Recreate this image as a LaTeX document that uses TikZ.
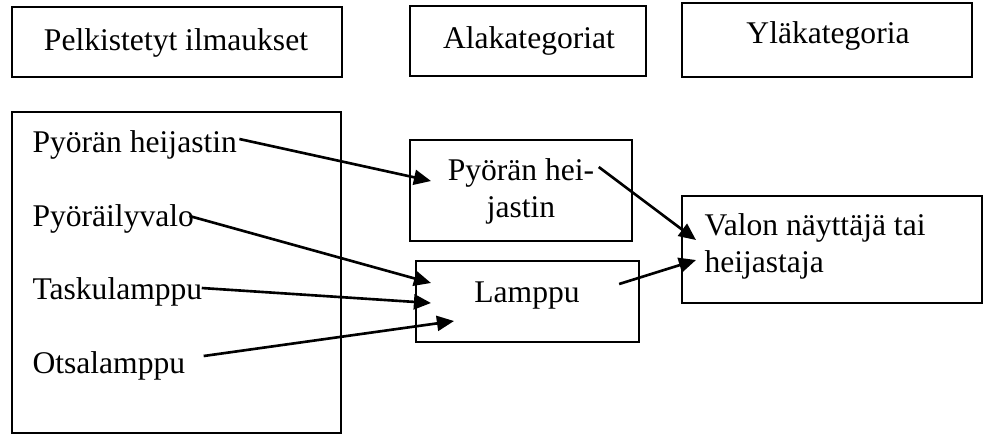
\documentclass[tikz,border=0pt]{standalone}
\usepackage{fontspec}
\setmainfont{Liberation Serif}
\usetikzlibrary{arrows.meta,calc,fit}
\begin{document}
\begin{tikzpicture}[x=0.38pt,y=-0.38pt,
  box/.style={draw,line width=0.75pt,inner sep=0pt},
  txt/.style={inner sep=0pt,font=\fontsize{12}{14}\selectfont},
  lbl/.style={txt,anchor=base west},
  clbl/.style={txt,anchor=base},
  arr/.style={line width=1pt,-{Triangle[length=6.5pt,width=5.7pt]}}]
\useasboundingbox (0,0) rectangle (984,434);
% header boxes
\node[box,fit={(12,7)(342,77)}] (b1) {};
\node[box,fit={(410,6)(646,76)}] (b2) {};
\node[box,fit={(682,3)(972,77)}] (b3) {};
\node[clbl] (h1) at (176,50) {Pelkistetyt ilmaukset};
\node[clbl] (h2) at (529,48) {Alakategoriat};
\node[clbl] (h3) at (828,43) {Yläkategoria};
% left box
\node[box,fit={(12,112)(341,433)}] (big) {};
\node[lbl] (ph) at (32,152) {Pyörän heijastin};
\node[lbl] (pv) at (32,226) {Pyöräilyvalo};
\node[lbl] (tl) at (32,299) {Taskulamppu};
\node[lbl] (ol) at (32,373) {Otsalamppu};
% middle boxes
\node[box,fit={(410,140)(632,241)}] (bp) {};
\node[clbl] (pa) at (521,180) {Pyörän hei-};
\node[clbl] (pb) at (521,217) {jastin};
\node[box,fit={(416,261)(639,342)}] (bl) {};
\node[clbl] (la) at (527,302) {Lamppu};
% right box
\node[box,fit={(682,196)(982,303)}] (bv) {};
\node[lbl] (va) at (704,235) {Valon näyttäjä tai};
\node[lbl] (vb) at (704,272) {heijastaja};
% arrows
\draw[arr] ($(ph.base east)+(2,-13)$) -- ($(bp.west)+(22,-9.5)$);
\draw[arr] ($(pv.base east)+(-5,-10)$) -- ($(bl.west)+(16,-18.5)$);
\draw[arr] ($(tl.base east)+(-1,-11)$) -- ($(bl.west)+(16,1.5)$);
\draw[arr] ($(ol.base east)+(18,-17)$) -- ($(bl.west)+(39,19.5)$);
\draw[arr] ($(pa.base east)+(4,-13)$) -- ($(bv.west)+(15,-9.5)$);
\draw[arr] ($(la.base east)+(39,-18)$) -- ($(bv.west)+(15,10.5)$);
\end{tikzpicture}
\end{document}
